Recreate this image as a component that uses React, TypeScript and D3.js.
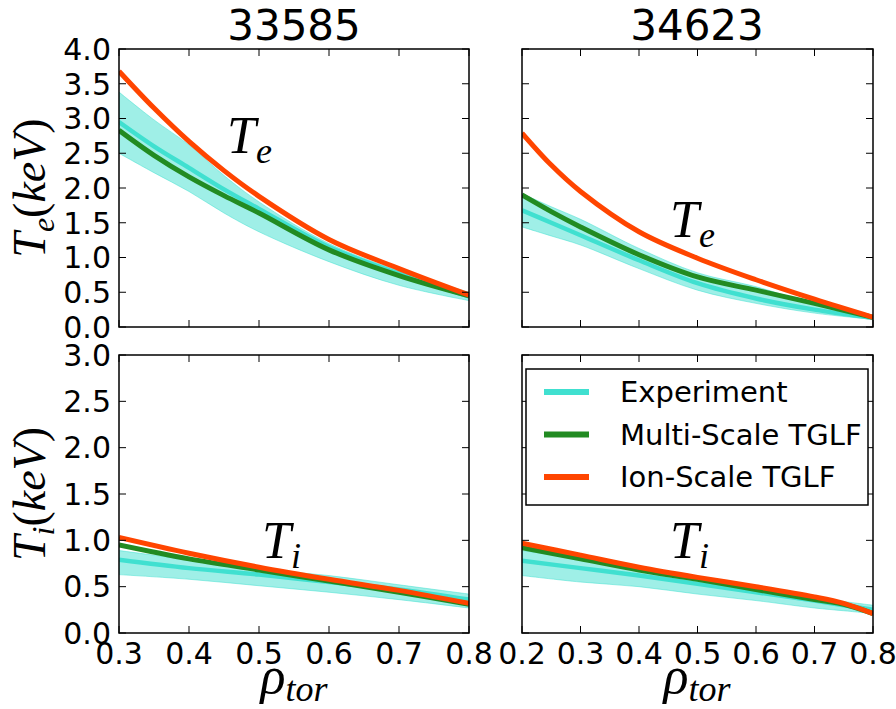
import React from "react";
import * as d3 from "d3";

// radial grid for each shot
const rho33585 = [0.3, 0.35, 0.4, 0.45, 0.5, 0.6, 0.7, 0.8];
const rho34623 = [0.2, 0.25, 0.3, 0.4, 0.5, 0.6, 0.7, 0.8];
const rho33585i = [0.3, 0.4, 0.5, 0.6, 0.7, 0.8];
const rho34623i = [0.2, 0.3, 0.4, 0.5, 0.6, 0.7, 0.75, 0.8];

// Te, shot 33585
const te33585Exp = [2.95, 2.6, 2.29, 1.98, 1.7, 1.15, 0.77, 0.44];
const te33585Hi = [3.38, 2.98, 2.62, 2.18, 1.8, 1.2, 0.81, 0.5];
const te33585Lo = [2.5, 2.22, 1.95, 1.64, 1.37, 0.94, 0.6, 0.38];
const te33585Multi = [2.83, 2.47, 2.16, 1.89, 1.64, 1.11, 0.74, 0.45];
const te33585Ion = [3.68, 3.15, 2.67, 2.25, 1.88, 1.26, 0.84, 0.46];

// Te, shot 34623
const te34623Exp = [1.68, 1.5, 1.32, 0.96, 0.63, 0.41, 0.25, 0.13];
const te34623Hi = [1.92, 1.73, 1.55, 1.13, 0.78, 0.58, 0.33, 0.15];
const te34623Lo = [1.44, 1.31, 1.18, 0.84, 0.53, 0.34, 0.2, 0.11];
const te34623Multi = [1.9, 1.66, 1.44, 1.04, 0.72, 0.53, 0.34, 0.14];
const te34623Ion = [2.79, 2.33, 1.95, 1.37, 0.99, 0.68, 0.4, 0.14];

// Ti, shot 33585
const ti33585Exp = [0.79, 0.7, 0.63, 0.55, 0.47, 0.36];
const ti33585Hi = [0.89, 0.79, 0.69, 0.62, 0.52, 0.42];
const ti33585Lo = [0.63, 0.58, 0.51, 0.44, 0.36, 0.27];
const ti33585Multi = [0.95, 0.8, 0.68, 0.56, 0.44, 0.31];
const ti33585Ion = [1.03, 0.86, 0.71, 0.58, 0.46, 0.32];

// Ti, shot 34623
const ti34623Exp = [0.78, 0.7, 0.62, 0.53, 0.44, 0.35, 0.3, 0.25];
const ti34623Hi = [0.89, 0.8, 0.69, 0.59, 0.5, 0.39, 0.34, 0.3];
const ti34623Lo = [0.62, 0.55, 0.5, 0.42, 0.35, 0.27, 0.24, 0.21];
const ti34623Multi = [0.92, 0.8, 0.68, 0.58, 0.47, 0.36, 0.31, 0.21];
const ti34623Ion = [0.97, 0.84, 0.71, 0.6, 0.5, 0.39, 0.32, 0.21];

const teTicks = [0, 0.5, 1, 1.5, 2, 2.5, 3, 3.5, 4];
const tiTicks = [0, 0.5, 1, 1.5, 2, 2.5, 3];
const xTicksLeft = [0.3, 0.4, 0.5, 0.6, 0.7, 0.8];
const xTicksRight = [0.2, 0.3, 0.4, 0.5, 0.6, 0.7, 0.8];

const titles = ["33585", "34623"];
const legendNames = ["Experiment", "Multi-Scale TGLF", "Ion-Scale TGLF"];

const EXP = "#40E0D0";
const MULTI = "#228B22";
const ION = "#FF4500";
const legendColors = [EXP, MULTI, ION];

const SANS = "DejaVu Sans, sans-serif";
const MATH = "Liberation Serif, DejaVu Serif, serif";

type PanelProps = {
  id: string;
  x0: number;
  y0: number;
  w: number;
  h: number;
  xDomain: [number, number];
  xTicks: number[];
  yMax: number;
  yTicks: number[];
  rho: number[];
  exp: number[];
  hi: number[];
  lo: number[];
  multi: number[];
  ion: number[];
  showX: boolean;
  showY: boolean;
  label: string;
  labelX: number;
  labelY: number;
};

const Panel = (p: PanelProps) => {
  const x = d3.scaleLinear().domain(p.xDomain).range([p.x0, p.x0 + p.w]);
  const y = d3.scaleLinear().domain([0, p.yMax]).range([p.y0 + p.h, p.y0]);
  const idx = p.rho.map((_, i) => i);
  const curve = d3.curveCatmullRom.alpha(0.5);

  const line = (vals: number[]) =>
    d3
      .line<number>()
      .x((i) => x(p.rho[i]))
      .y((i) => y(vals[i]))
      .curve(curve)(idx) || "";

  const band =
    d3
      .area<number>()
      .x((i) => x(p.rho[i]))
      .y0((i) => y(p.lo[i]))
      .y1((i) => y(p.hi[i]))
      .curve(curve)(idx) || "";

  const tl = 7;
  const bottom = p.y0 + p.h;
  const right = p.x0 + p.w;

  return (
    <g>
      <defs>
        <clipPath id={p.id}>
          <rect x={p.x0} y={p.y0} width={p.w} height={p.h} />
        </clipPath>
      </defs>
      <g clipPath={`url(#${p.id})`}>
        <path d={band} fill={EXP} fillOpacity={0.5} stroke={EXP} strokeOpacity={0.5} strokeWidth={1} />
        <path d={line(p.exp)} fill="none" stroke={EXP} strokeWidth={4.5} />
        <path d={line(p.multi)} fill="none" stroke={MULTI} strokeWidth={5} />
        <path d={line(p.ion)} fill="none" stroke={ION} strokeWidth={5} />
      </g>
      {p.xTicks.map((t) => (
        <g key={"x" + t}>
          <line x1={x(t)} x2={x(t)} y1={bottom} y2={bottom - tl} stroke="#000" strokeWidth={1} />
          <line x1={x(t)} x2={x(t)} y1={p.y0} y2={p.y0 + tl} stroke="#000" strokeWidth={1} />
          {p.showX && (
            <text x={x(t)} y={bottom + 31} textAnchor="middle" fontFamily={SANS} fontSize={30}>
              {t.toFixed(1)}
            </text>
          )}
        </g>
      ))}
      {p.yTicks.map((t) => (
        <g key={"y" + t}>
          <line x1={p.x0} x2={p.x0 + tl} y1={y(t)} y2={y(t)} stroke="#000" strokeWidth={1} />
          <line x1={right} x2={right - tl} y1={y(t)} y2={y(t)} stroke="#000" strokeWidth={1} />
          {p.showY && (
            <text x={p.x0 - 8} y={y(t)} dy="0.36em" textAnchor="end" fontFamily={SANS} fontSize={30}>
              {t.toFixed(1)}
            </text>
          )}
        </g>
      ))}
      <rect x={p.x0} y={p.y0} width={p.w} height={p.h} fill="none" stroke="#000" strokeWidth={1.5} />
      <text x={p.labelX} y={p.labelY} fontFamily={MATH} fontStyle="italic" fontSize={52}>
        T
        <tspan fontSize={36} dy={10}>
          {p.label}
        </tspan>
      </text>
    </g>
  );
};

const App = () => {
  const W = 896;
  const H = 709;
  const lx = 119;
  const rx = 522;
  const pw = 350;
  const ty = 49;
  const by = 355;
  const ph = 278;

  const yLabel = (cy: number, sub: string) => (
    <text
      transform={`translate(45,${cy}) rotate(-90)`}
      textAnchor="middle"
      fontFamily={MATH}
      fontSize={46}
    >
      <tspan fontStyle="italic">T</tspan>
      <tspan fontStyle="italic" fontSize={32} dy={9}>
        {sub}
      </tspan>
      <tspan dy={-9}>(</tspan>
      <tspan fontStyle="italic">keV</tspan>
      <tspan>)</tspan>
    </text>
  );

  const xLabel = (cx: number) => (
    <text x={cx} y={693} textAnchor="middle" fontFamily={MATH} fontStyle="italic" fontSize={52}>
      ρ
      <tspan fontSize={36} dy={8}>
        tor
      </tspan>
    </text>
  );

  return (
    <svg width={W} height={H} style={{ position: "absolute", left: 0, top: 0, background: "#fff" }}>
      <rect width={W} height={H} fill="#fff" />
      {titles.map((t, i) => (
        <text
          key={t}
          x={(i === 0 ? lx : rx) + pw / 2}
          y={40}
          textAnchor="middle"
          fontFamily={SANS}
          fontSize={42}
        >
          {t}
        </text>
      ))}
      <Panel
        id="c1" x0={lx} y0={ty} w={pw} h={ph} xDomain={[0.3, 0.8]} xTicks={xTicksLeft}
        yMax={4} yTicks={teTicks} rho={rho33585} exp={te33585Exp} hi={te33585Hi} lo={te33585Lo}
        multi={te33585Multi} ion={te33585Ion} showX={false} showY={true}
        label="e" labelX={227} labelY={153}
      />
      <Panel
        id="c2" x0={rx} y0={ty} w={pw + 1} h={ph} xDomain={[0.2, 0.8]} xTicks={xTicksRight}
        yMax={4} yTicks={teTicks} rho={rho34623} exp={te34623Exp} hi={te34623Hi} lo={te34623Lo}
        multi={te34623Multi} ion={te34623Ion} showX={false} showY={false}
        label="e" labelX={670} labelY={237}
      />
      <Panel
        id="c3" x0={lx} y0={by} w={pw} h={ph} xDomain={[0.3, 0.8]} xTicks={xTicksLeft}
        yMax={3} yTicks={tiTicks} rho={rho33585i} exp={ti33585Exp} hi={ti33585Hi} lo={ti33585Lo}
        multi={ti33585Multi} ion={ti33585Ion} showX={true} showY={true}
        label="i" labelX={262} labelY={558}
      />
      <Panel
        id="c4" x0={rx} y0={by} w={pw + 1} h={ph} xDomain={[0.2, 0.8]} xTicks={xTicksRight}
        yMax={3} yTicks={tiTicks} rho={rho34623i} exp={ti34623Exp} hi={ti34623Hi} lo={ti34623Lo}
        multi={ti34623Multi} ion={ti34623Ion} showX={true} showY={false}
        label="i" labelX={670} labelY={558}
      />
      {yLabel(ty + ph / 2, "e")}
      {yLabel(by + ph / 2, "i")}
      {xLabel(lx + pw / 2)}
      {xLabel(rx + pw / 2)}
      <g>
        <rect x={526} y={369} width={342} height={136} fill="#fff" stroke="#000" strokeWidth={1.5} />
        {legendNames.map((n, i) => (
          <g key={n}>
            <line x1={544} x2={589} y1={392 + i * 42.5} y2={392 + i * 42.5} stroke={legendColors[i]} strokeWidth={6} />
            <text x={620} y={392 + i * 42.5} dy="0.36em" fontFamily={SANS} fontSize={29}>
              {n}
            </text>
          </g>
        ))}
      </g>
    </svg>
  );
};

export default App;
